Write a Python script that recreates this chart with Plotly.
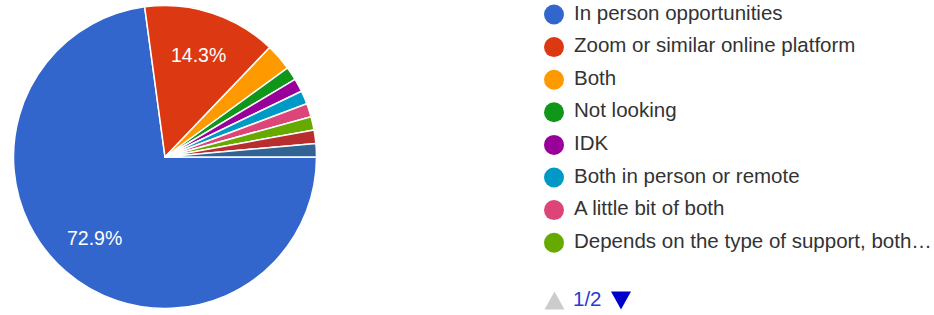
import math
import plotly.graph_objects as go

# ---- data ----
labels = [
    "In person opportunities",
    "Zoom or similar online platform",
    "Both",
    "Not looking",
    "IDK",
    "Both in person or remote",
    "A little bit of both",
    "Depends on the type of support, both…",
    "Other response (page 2) A",
    "Other response (page 2) B",
]
counts = [51, 10, 2, 1, 1, 1, 1, 1, 1, 1]
colors = ["#3366cc", "#dc3912", "#ff9900", "#109618", "#990099",
          "#0099c6", "#dd4477", "#66aa00", "#b82e2e", "#316395"]
legend_page_size = 8
page_text = "1/2"

W, H = 934, 315
FONT = "Liberation Sans, Arial, sans-serif"

fig = go.Figure()

# pie
cx, cy, r = 165, 157, 151.5
start_deg = 90  # compass angle where the first slice starts (3 o'clock)
total = sum(counts)
fig.add_trace(go.Pie(
    labels=labels, values=counts, sort=False, direction="clockwise", rotation=start_deg,
    marker=dict(colors=colors, line=dict(color="white", width=1.5)),
    textinfo="none",
    domain=dict(x=[(cx - r) / W, (cx + r) / W], y=[1 - (cy + r) / H, 1 - (cy - r) / H]),
    showlegend=False, hoverinfo="label+percent",
))

# percentage labels placed along each slice bisector (only for large slices)
acc = 0.0
for c in counts:
    frac = c / total
    mid = math.radians(start_deg + 360 * (acc + frac / 2))
    acc += frac
    if frac < 0.05:
        continue
    px = cx + 0.71 * r * math.sin(mid)
    py = cy - 0.71 * r * math.cos(mid)
    fig.add_annotation(
        x=px / W, y=1 - py / H, xref="paper", yref="paper",
        text=f"{frac * 100:.1f}%", showarrow=False,
        font=dict(color="white", size=19.5, family=FONT),
        xanchor="center", yanchor="middle",
    )

# custom paged legend (legend axis: x in pixels, y in rows)
row_px = 32.6
top_px = 14.5
n = legend_page_size
rows = list(range(n))
fig.add_trace(go.Scatter(
    x=[14] * n, y=rows, mode="markers",
    marker=dict(size=20, color=colors[:n], line=dict(width=0)),
    xaxis="x", yaxis="y", showlegend=False, hoverinfo="skip",
))
fig.add_trace(go.Scatter(
    x=[34] * n, y=rows, mode="text", text=labels[:n], textposition="middle right",
    textfont=dict(size=20.5, color="#333333", family=FONT),
    xaxis="x", yaxis="y", showlegend=False, hoverinfo="skip",
))

# pager
pager_y = 8.77
def tri(xc, yc, up, w=20, h=18):
    hy = h / 2 / row_px
    if up:
        return [xc - w / 2, xc + w / 2, xc, xc - w / 2], [yc + hy, yc + hy, yc - hy, yc + hy]
    return [xc - w / 2, xc + w / 2, xc, xc - w / 2], [yc - hy, yc - hy, yc + hy, yc - hy]

for up, col, xc in [(True, "#cccccc", 14.5), (False, "#0000cc", 81)]:
    tx, ty = tri(xc, pager_y, up)
    fig.add_trace(go.Scatter(
        x=tx, y=ty, mode="lines", fill="toself", fillcolor=col,
        line=dict(width=0, color=col),
        xaxis="x", yaxis="y", showlegend=False, hoverinfo="skip",
    ))
fig.add_trace(go.Scatter(
    x=[33], y=[pager_y], mode="text", text=[page_text], textposition="middle right",
    textfont=dict(size=20.5, color="#2a3ad4", family=FONT),
    xaxis="x", yaxis="y", showlegend=False, hoverinfo="skip",
))

r0 = -top_px / row_px
r1 = r0 + H / row_px
lx0 = 540
fig.update_layout(
    width=W, height=H, margin=dict(l=0, r=0, t=0, b=0),
    paper_bgcolor="white", plot_bgcolor="rgba(0,0,0,0)",
    xaxis=dict(domain=[lx0 / W, 1], range=[0, W - lx0], visible=False, fixedrange=True),
    yaxis=dict(domain=[0, 1], range=[r1, r0], visible=False, fixedrange=True),
    font=dict(family=FONT),
)

fig.write_html("out.html", config={"displayModeBar": False},
               post_script="document.body.style.margin='0';")
